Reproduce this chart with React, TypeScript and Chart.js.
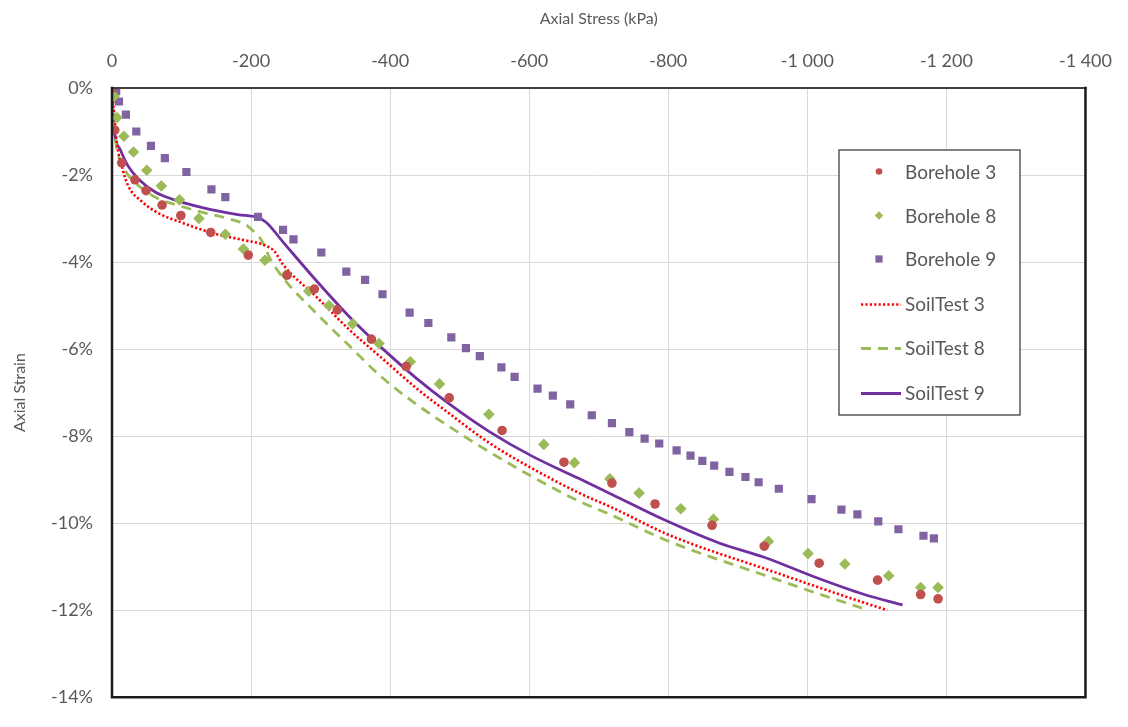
import React, { useEffect, useRef } from "react";
import { Chart, registerables } from "chart.js";

Chart.register(...registerables);

// ---- Data (Axial stress in kPa, axial strain in %) ----
const borehole3Stress = [0, -4, -14, -33, -49, -72, -99, -142, -196, -252, -291, -324, -373, -423, -485, -561, -650, -719, -781, -863, -938, -1017, -1101, -1163, -1188];
const borehole3Strain = [0, -0.97, -1.72, -2.11, -2.36, -2.69, -2.93, -3.32, -3.84, -4.3, -4.62, -5.1, -5.77, -6.4, -7.12, -7.87, -8.6, -9.08, -9.56, -10.05, -10.53, -10.92, -11.31, -11.64, -11.74];

const borehole8Stress = [-3, -7, -17, -31, -50, -71, -97, -125, -163, -189, -220, -250, -283, -312, -346, -384, -429, -471, -542, -621, -665, -716, -758, -818, -865, -944, -1001, -1054, -1117, -1163, -1188];
const borehole8Strain = [-0.19, -0.68, -1.11, -1.47, -1.89, -2.25, -2.57, -3.0, -3.36, -3.7, -3.96, -4.3, -4.67, -5.0, -5.42, -5.87, -6.29, -6.8, -7.5, -8.19, -8.61, -8.98, -9.31, -9.67, -9.91, -10.42, -10.7, -10.94, -11.21, -11.48, -11.48];

const borehole9Stress = [-6, -10, -20, -35, -56, -76, -107, -143, -163, -210, -246, -261, -301, -337, -364, -389, -428, -455, -488, -509, -529, -560, -579, -612, -634, -659, -690, -719, -744, -766, -787, -812, -832, -849, -866, -888, -911, -930, -959, -1006, -1049, -1072, -1102, -1131, -1167, -1182];
const borehole9Strain = [-0.07, -0.31, -0.61, -1.0, -1.33, -1.61, -1.93, -2.33, -2.51, -2.96, -3.26, -3.48, -3.78, -4.22, -4.41, -4.74, -5.16, -5.4, -5.73, -5.98, -6.16, -6.42, -6.64, -6.91, -7.07, -7.27, -7.52, -7.7, -7.91, -8.06, -8.17, -8.33, -8.45, -8.57, -8.68, -8.82, -8.94, -9.06, -9.21, -9.45, -9.69, -9.8, -9.96, -10.14, -10.29, -10.35];

const soilTest3Stress = [0, -2, -7, -14, -23, -43, -66, -100, -148, -191, -219, -234, -246, -294, -341, -389, -437, -485, -542, -604, -671, -719, -795, -843, -939, -1006, -1082, -1115];
const soilTest3Strain = [0, -0.38, -1.27, -1.79, -2.24, -2.61, -2.87, -3.09, -3.35, -3.5, -3.61, -3.76, -4.06, -4.8, -5.55, -6.22, -6.89, -7.48, -8.15, -8.74, -9.3, -9.64, -10.23, -10.53, -11.05, -11.42, -11.83, -12.0];

const soilTest8Stress = [0, -0.4, -4, -9, -19, -38, -66, -100, -133, -162, -191, -200, -215, -227, -246, -294, -341, -389, -437, -485, -532, -604, -671, -719, -795, -853, -939, -1006, -1080];
const soilTest8Strain = [0, -0.22, -1.05, -1.53, -1.9, -2.24, -2.54, -2.72, -2.87, -2.98, -3.13, -3.24, -3.5, -3.91, -4.36, -5.18, -5.92, -6.66, -7.26, -7.78, -8.26, -8.93, -9.49, -9.82, -10.38, -10.73, -11.2, -11.57, -11.96];

const soilTest9Stress = [0, -0.4, -4, -12, -23, -38, -62, -90, -133, -181, -210, -222, -246, -294, -341, -389, -437, -485, -542, -604, -671, -719, -795, -872, -939, -1006, -1082, -1137];
const soilTest9Strain = [0, -0.23, -1.05, -1.42, -1.79, -2.09, -2.39, -2.57, -2.76, -2.91, -2.98, -3.09, -3.54, -4.43, -5.25, -5.99, -6.66, -7.26, -7.89, -8.46, -8.97, -9.34, -9.93, -10.45, -10.79, -11.21, -11.64, -11.88];

const seriesLabels = ["Borehole 3", "Borehole 8", "Borehole 9", "SoilTest 3", "SoilTest 8", "SoilTest 9"];
const xTickMin = -1400;
const xTickMax = 0;
const xTickStep = 200;
const yTickMin = -14;
const yTickMax = 0;
const yTickStep = 2;

const FONT = "Lato, 'Open Sans', sans-serif";
const TEXT_COLOR = "#595959";

function pts(xs: number[], ys: number[]) {
  return xs.map((x, i) => ({ x, y: ys[i] }));
}

function fmtStress(v: number): string {
  if (v === 0) return "0";
  const a = Math.abs(v);
  const s = a >= 1000 ? Math.floor(a / 1000) + " " + String(a % 1000).padStart(3, "0") : String(a);
  return (v < 0 ? "-" : "") + s;
}

const frameAndLegend = {
  id: "frameAndLegend",
  afterDraw(chart: any) {
    const { ctx, chartArea } = chart;
    const { left, right, top, bottom } = chartArea;
    ctx.save();
    // plot border
    ctx.lineCap = "square";
    ctx.strokeStyle = "#404040";
    ctx.lineWidth = 2;
    ctx.beginPath();
    ctx.moveTo(left, top);
    ctx.lineTo(right, top);
    ctx.stroke();
    ctx.strokeStyle = "#1a1a1a";
    ctx.lineWidth = 2.5;
    ctx.beginPath();
    ctx.moveTo(right, top);
    ctx.lineTo(right, bottom);
    ctx.lineTo(left, bottom);
    ctx.lineTo(left, top);
    ctx.stroke();

    // legend
    const lx = 839, ly = 150, lw = 181, lh = 265;
    ctx.fillStyle = "#ffffff";
    ctx.fillRect(lx, ly, lw, lh);
    ctx.strokeStyle = "#404040";
    ctx.lineWidth = 1.3;
    ctx.lineCap = "butt";
    ctx.strokeRect(lx, ly, lw, lh);
    const rowY = [171.5, 215.5, 259, 303.5, 348, 392.5];
    ctx.font = "19px " + FONT;
    ctx.textBaseline = "middle";
    ctx.textAlign = "left";
    chart.data.datasets.forEach((ds: any, i: number) => {
      const y = rowY[i];
      if (ds.showLine) {
        ctx.save();
        ctx.strokeStyle = ds.borderColor;
        ctx.lineWidth = ds.borderWidth;
        ctx.lineCap = "butt";
        ctx.setLineDash(ds.borderDash || []);
        ctx.beginPath();
        ctx.moveTo(861, Math.round(y) + 0.5);
        ctx.lineTo(901, Math.round(y) + 0.5);
        ctx.stroke();
        ctx.restore();
      } else {
        ctx.save();
        ctx.fillStyle = ds.backgroundColor;
        ctx.beginPath();
        const cx = 879;
        if (ds.pointStyle === "circle") {
          ctx.arc(cx, y, 3.3, 0, Math.PI * 2);
        } else if (ds.pointStyle === "rectRot") {
          ctx.moveTo(cx, y - 4.2);
          ctx.lineTo(cx + 4.2, y);
          ctx.lineTo(cx, y + 4.2);
          ctx.lineTo(cx - 4.2, y);
          ctx.closePath();
        } else {
          ctx.rect(cx - 3.6, y - 3.6, 7.2, 7.2);
        }
        ctx.fill();
        ctx.restore();
      }
      ctx.fillStyle = TEXT_COLOR;
      ctx.fillText(seriesLabels[i], 905, y + 1);
    });
    ctx.restore();
  },
};

export default function App() {
  const ref = useRef<HTMLCanvasElement | null>(null);

  useEffect(() => {
    document.body.style.margin = "0";
    const canvas = ref.current;
    if (!canvas) return;

    const scatter = (label: string, data: any[], color: string, style: string, radius: number) => ({
      label,
      data,
      showLine: false,
      pointStyle: style,
      pointRadius: radius,
      pointHoverRadius: radius,
      backgroundColor: color,
      borderColor: color,
      pointBorderWidth: 0,
      borderWidth: 0,
    });
    const line = (label: string, data: any[], color: string, dash: number[], width: number) => ({
      label,
      data,
      showLine: true,
      pointRadius: 0,
      borderColor: color,
      backgroundColor: color,
      borderWidth: width,
      borderDash: dash,
      borderCapStyle: "butt",
      cubicInterpolationMode: "monotone",
      fill: false,
    });

    const chart = new Chart(canvas, {
      type: "scatter",
      data: {
        datasets: [
          scatter(seriesLabels[0], pts(borehole3Stress, borehole3Strain), "#C0504D", "circle", 4.8),
          scatter(seriesLabels[1], pts(borehole8Stress, borehole8Strain), "#9BBB59", "rectRot", 5.8),
          scatter(seriesLabels[2], pts(borehole9Stress, borehole9Strain), "#8064A2", "rect", 5.8),
          line(seriesLabels[3], pts(soilTest3Stress, soilTest3Strain), "#FF0000", [2.2, 2.2], 2.6),
          line(seriesLabels[4], pts(soilTest8Stress, soilTest8Strain), "#9BBB59", [10, 7], 2.8),
          line(seriesLabels[5], pts(soilTest9Stress, soilTest9Strain), "#7030A0", [], 2.8),
        ] as any,
      },
      options: {
        responsive: false,
        animation: false,
        devicePixelRatio: 1,
        layout: { padding: { left: 0, top: 0, right: 40, bottom: 11 } },
        plugins: {
          legend: { display: false },
          tooltip: { enabled: false },
        },
        scales: {
          x: {
            type: "linear",
            position: "top",
            reverse: true,
            min: xTickMin,
            max: xTickMax,
            afterFit(scale: any) {
              scale.height = 88;
            },
            ticks: {
              stepSize: xTickStep,
              padding: 16,
              color: TEXT_COLOR,
              font: { family: FONT, size: 18 },
              callback: (v: any) => fmtStress(Number(v)),
              maxRotation: 0,
              autoSkip: false,
            },
            grid: { color: "#d9d9d9", lineWidth: 1, drawTicks: false },
            border: { display: false },
            title: {
              display: true,
              text: "Axial Stress (kPa)",
              color: TEXT_COLOR,
              font: { family: FONT, size: 16 },
              padding: { top: 9, bottom: 0 },
            },
          },
          y: {
            type: "linear",
            min: yTickMin,
            max: yTickMax,
            afterFit(scale: any) {
              scale.width = 112;
            },
            ticks: {
              stepSize: yTickStep,
              padding: 19,
              color: TEXT_COLOR,
              font: { family: FONT, size: 18 },
              callback: (v: any) => (Number(v) === 0 ? "0%" : Number(v) + "%"),
              autoSkip: false,
            },
            grid: { color: "#d9d9d9", lineWidth: 1, drawTicks: false },
            border: { display: false },
            title: {
              display: true,
              text: "Axial Strain",
              color: TEXT_COLOR,
              font: { family: FONT, size: 16 },
              padding: { top: 10, bottom: 0 },
            },
          },
        },
      } as any,
      plugins: [frameAndLegend],
    });

    return () => chart.destroy();
  }, []);

  return (
    <div style={{ width: 1128, height: 727, background: "#fff" }}>
      <canvas ref={ref} width={1128} height={727} style={{ display: "block" }} />
    </div>
  );
}
